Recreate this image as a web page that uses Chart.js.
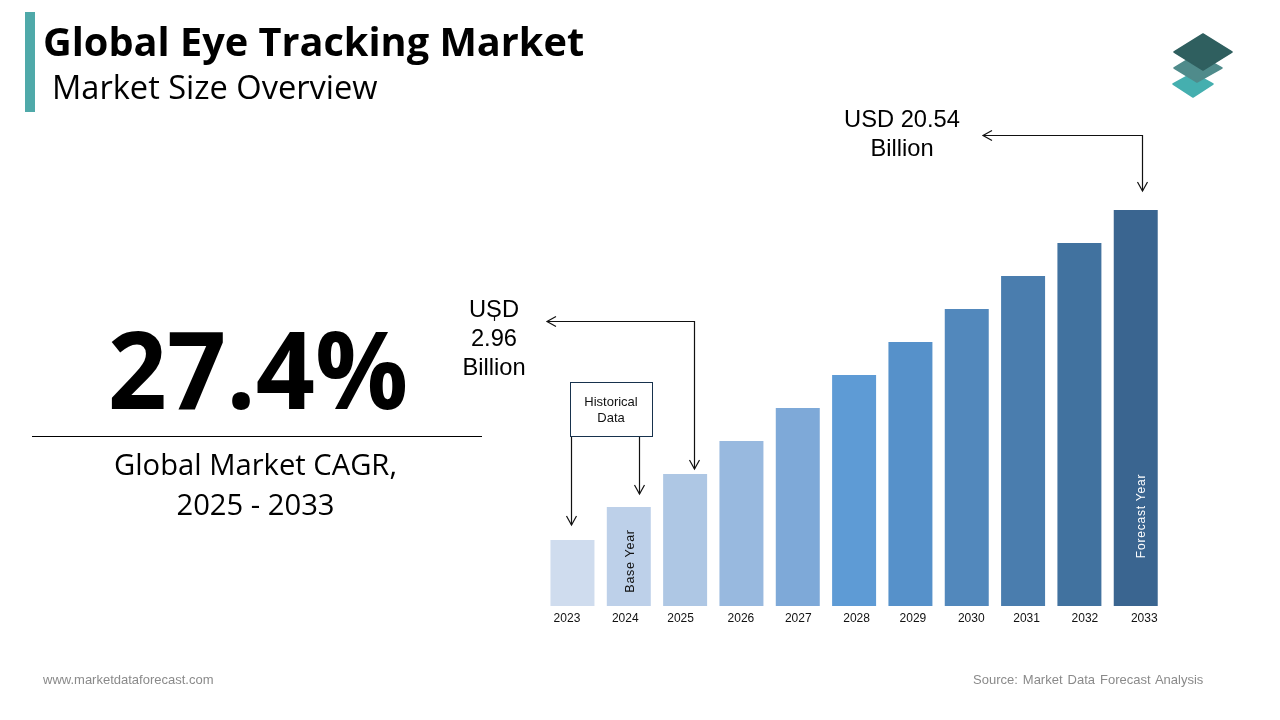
<!DOCTYPE html>
<html><head><meta charset="utf-8">
<script src="https://cdn.jsdelivr.net/npm/chart.js@4"></script>
<style>
html,body{margin:0;padding:0;background:#fff;overflow:hidden}
#stage{position:relative;width:1280px;height:720px;overflow:hidden}
canvas{position:absolute;left:0;top:0}
svg{position:absolute;left:0;top:0}
.t{position:absolute;white-space:nowrap;color:#000}
.os{font-family:"Open Sans",sans-serif}
.ar{font-family:"Liberation Sans",Arial,sans-serif}
.c{text-align:center}
.rot{transform:translate(-50%,-50%) rotate(-90deg)}
</style></head><body>
<div id="stage">
<canvas id="c" width="1280" height="720"></canvas>
<svg width="1280" height="720" viewBox="0 0 1280 720">
<rect x="25" y="12" width="10" height="100" fill="#4FA9A9"/>
<line x1="32" y1="436.5" x2="482" y2="436.5" stroke="#000" stroke-width="1"/>
<g fill="none" stroke="#111" stroke-width="1.2">
<path d="M1142.500 191V135.500H984"/><path d="M1137.500 182l5 9 5-9M992 130.500l-9 5 9 5"/>
<path d="M694.500 469V321.500H548"/><path d="M689.500 460l5 9 5-9M556 316.500l-9 5 9 5"/>
<path d="M571.500 437V525"/><path d="M566.500 516l5 9 5-9"/>
<path d="M639.500 437V494"/><path d="M634.500 485l5 9 5-9"/>
<path d="M494.500 316v5"/>
</g>
<rect x="570.500" y="382.500" width="82" height="54" fill="#fff" stroke="#17324d" stroke-width="1"/>
<g stroke-linejoin="round" stroke-width="1.500">
<polygon points="1173,84 1193,73 1213,84 1193,97" fill="#45AFAF" stroke="#45AFAF"/>
<polygon points="1174,68 1197,54 1222,68 1197,82" fill="#4F8B8B" stroke="#4F8B8B"/>
<polygon points="1174,52 1203,34 1232,52 1203,70" fill="#2F5F5F" stroke="#2F5F5F"/>
</g>
</svg>
<div class="t os" style="left:43px;top:13px;font-size:39.700px;font-weight:700;line-height:56px">Global Eye Tracking Market</div>
<div class="t os" style="left:52px;top:65px;font-size:32.600px;line-height:44px">Market Size Overview</div>
<div class="t os c" style="left:33px;width:450px;top:305.400px;font-size:103.500px;font-weight:700;line-height:124px;transform:scaleY(1.04)">27.4%</div>
<div class="t os c" style="left:32px;width:447px;top:444px;font-size:29.200px;line-height:40px">Global Market CAGR,<br>2025 - 2033</div>
<div class="t ar c" style="left:802px;width:200px;top:105px;font-size:23.700px;line-height:29px">USD 20.54<br>Billion</div>
<div class="t ar c" style="left:444px;width:100px;top:295px;font-size:23.700px;line-height:29px">USD<br>2.96<br>Billion</div>
<div class="t ar c" style="left:571px;width:80px;top:394px;font-size:13px;line-height:16px;color:#111">Historical<br>Data</div>
<div class="t ar rot" style="left:630px;top:561px;font-size:12.500px;letter-spacing:.7px;color:#111">Base Year</div>
<div class="t ar rot" style="left:1141px;top:516px;font-size:12px;letter-spacing:.8px;color:#fff">Forecast Year</div>
<div class="t ar" style="left:43px;top:672px;font-size:13px;color:#8a8a8a">www.marketdataforecast.com</div>
<div class="t ar" style="left:973px;top:672px;font-size:13px;color:#8a8a8a;word-spacing:1.400px">Source: Market Data Forecast Analysis</div>
</div>
<script>
// The bars in the source graphic are illustrative: relative heights.
const categories = ["2023","2024","2025","2026","2027","2028","2029","2030","2031","2032","2033"];
const barHeights = [2,3,4,5,6,7,8,9,10,11,12];
const barColors = ["#CFDCEE","#BDD0E9","#AEC7E4","#98B9DF","#7EA9D8","#5E9BD5","#5691CA","#5288BC","#4A7DAE","#41729F","#3A6590"];
const tickShift = [-5.5,-3.5,-4.5,-0.5,0.5,2.5,2.5,4.5,3.5,5.5,8.5];

new Chart(document.getElementById('c'),{
  type:'bar',
  data:{labels:categories,datasets:[{data:barHeights,backgroundColor:barColors,borderWidth:0,categoryPercentage:1,barPercentage:0.795}]},
  options:{
    responsive:false,animation:false,devicePixelRatio:1,
    layout:{padding:{left:544.3,right:116.1,top:210,bottom:74}},
    plugins:{legend:{display:false},tooltip:{enabled:false},title:{display:false}},
    scales:{
      y:{display:false,min:0,max:12},
      x:{
        grid:{display:false,drawTicks:false},border:{display:false},
        ticks:{autoSkip:false,maxRotation:0,padding:5,color:'#111',font:{family:'"Liberation Sans"',size:12}},
        afterFit(s){s.height=40;},
        afterUpdate(s){s.getPixelForTick=i=>s.getPixelForValue(i)+tickShift[i];}
      }
    }
  }
});
</script>
</body></html>
